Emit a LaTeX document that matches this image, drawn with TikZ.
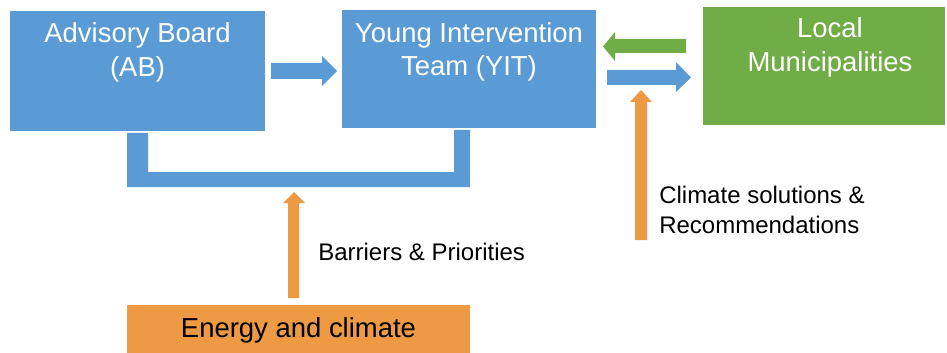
\documentclass[tikz,border=0pt]{standalone}
\usepackage{fontspec}
\setmainfont{Liberation Sans}
\definecolor{cblue}{HTML}{5B9BD5}
\definecolor{cgreen}{HTML}{70AD47}
\definecolor{corange}{HTML}{EE9A45}
\begin{document}
\begin{tikzpicture}[x=0.75pt,y=-0.75pt,
  box/.style={rectangle,inner sep=0pt,outer sep=0pt},
  big/.style={font=\fontsize{20.6}{24.7}\selectfont,text=white,anchor=base,inner sep=0pt},
  small/.style={font=\fontsize{18}{21.6}\selectfont,text=black,anchor=base west,inner sep=0pt}]
\useasboundingbox (0,0) rectangle (947,353);
% boxes
\node[box,fill=cblue,minimum width=191.25pt,minimum height=90pt] (AB) at (137.5,71) {};
\node[box,fill=cblue,minimum width=190.5pt,minimum height=88.5pt] (YIT) at (469,69) {};
\node[box,fill=cgreen,minimum width=181.5pt,minimum height=88.5pt] (LM) at (824,66) {};
\node[box,fill=corange,minimum width=257.25pt,minimum height=36pt] (EC) at (298.5,329) {};
% texts
\node[big] (t1) at (137.5,43) {Advisory Board};
\node[big] (t2) at (137.5,77) {(AB)};
\node[big] (t3) at (469,43) {Young Intervention};
\node[big] (t4) at (469,76) {Team (YIT)};
\node[big] (t5) at (830,38) {Local};
\node[big] (t6) at (830,72) {Municipalities};
\node[big,text=black] (t7) at (298.5,337) {Energy and climate};
\node[small] (t8) at (318,260) {Barriers \& Priorities};
\node[small] (t9) at (659,203) {Climate solutions \&};
\node[small] (t10) at (659,233) {Recommendations};
% U bracket
\fill[cblue] (127,133) -- (148,133) -- (148,172) -- (454,172) -- (454,130) -- (470,130) -- (470,187) -- (127,187) -- cycle;
% AB -> YIT
\fill[cblue] (271,63) -- (322,63) -- (322,56) -- (337,71) -- (322,86) -- (322,79) -- (271,79) -- cycle;
% LM -> YIT (green, leftwards)
\fill[cgreen] (686,39) -- (615,39) -- (615,32) -- (603,46.5) -- (615,61) -- (615,53) -- (686,53) -- cycle;
% YIT -> LM (blue, rightwards)
\fill[cblue] (607,70) -- (676,70) -- (676,62) -- (691,77.5) -- (676,92) -- (676,85) -- (607,85) -- cycle;
% orange up arrows
\fill[corange] (635,240) -- (635,102) -- (630,102) -- (641,90) -- (652,102) -- (647,102) -- (647,240) -- cycle;
\fill[corange] (288,298) -- (288,203) -- (283,203) -- (294,192) -- (305,203) -- (299,203) -- (299,298) -- cycle;
\end{tikzpicture}
\end{document}
